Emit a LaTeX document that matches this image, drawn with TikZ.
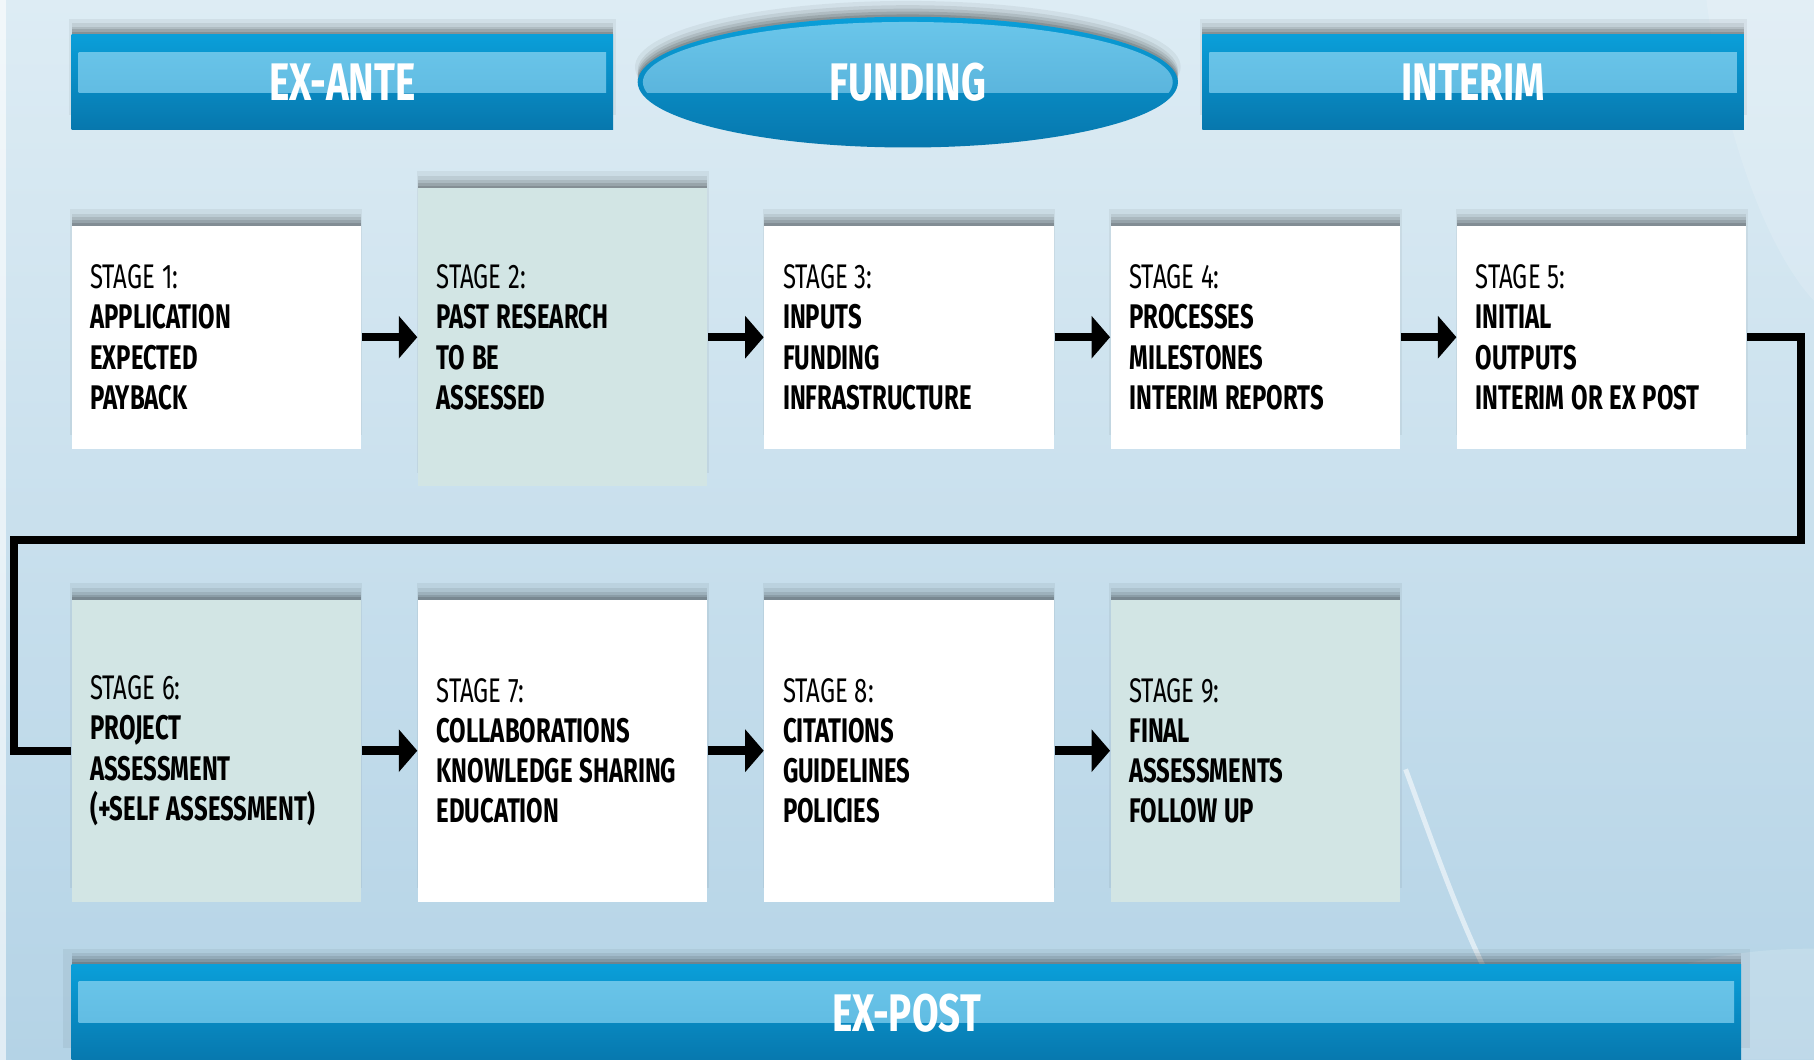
\documentclass[tikz,border=0pt]{standalone}
\usepackage{fontspec}
\setmainfont{Fira Sans}
\newfontfamily\condfont[FakeStretch=0.7, Numbers=Proportional]{Fira Sans}
\newfontfamily\bannerfont[FakeStretch=0.73]{Fira Sans}
\usetikzlibrary{positioning,shapes.geometric,shadows,arrows.meta,calc}

\definecolor{bgtop}{HTML}{DDECF4}
\definecolor{bgbottom}{HTML}{B4D3E6}
\definecolor{bandtop}{HTML}{0A9FD9}
\definecolor{banddeep}{HTML}{0777AD}
\definecolor{bandlight}{HTML}{6BC7EB}
\definecolor{bandmid}{HTML}{5BB5DD}
\definecolor{stagegreen}{HTML}{D2E5E4}

\newcommand{\stagehead}[1]{{\mdseries STAGE #1:}}

\tikzset{
  softshadow/.style={general shadow={shadow yshift=0.13cm, shadow scale=1.01, fill=black, opacity=.05},
                     general shadow={shadow yshift=0.10cm, fill=black, opacity=.07},
                     general shadow={shadow yshift=0.07cm, fill=black, opacity=.09},
                     general shadow={shadow yshift=0.045cm, fill=black, opacity=.11},
                     general shadow={shadow yshift=0.02cm, fill=black, opacity=.13}},
  stagebox/.style={rectangle, fill=white, softshadow, minimum width=2.5cm, minimum height=1.93cm,
                   text width=2.18cm, inner xsep=0.16cm, inner ysep=0pt, align=left, text=black,
                   font=\condfont\bfseries\fontsize{8.4}{9.9}\selectfont,
                   execute at begin node={\spaceskip=0.2em plus 0.05em\relax}},
  shadedbox/.style={stagebox, fill=stagegreen},
  bandfill/.style={path picture={\shade[top color=bandlight, bottom color=bandmid]
                   ([xshift=0.06cm,yshift=-0.15cm]path picture bounding box.north west) rectangle
                   ([xshift=-0.06cm,yshift=-0.50cm]path picture bounding box.north east);}},
  banner/.style={rectangle, softshadow, top color=bandtop, bottom color=banddeep, bandfill,
                 minimum width=4.68cm, minimum height=0.82cm, inner sep=0pt, text=white,
                 font=\bannerfont\bfseries\fontsize{13}{13}\selectfont},
  fundshape/.style={ellipse, softshadow, top color=bandtop, bottom color=banddeep,
                    minimum width=4.67cm, minimum height=1.13cm, inner sep=0pt, text=white,
                    font=\bannerfont\bfseries\fontsize{13}{13}\selectfont,
                    path picture={\begin{scope}
                      \clip (path picture bounding box.center) ellipse (2.29cm and 0.52cm);
                      \shade[top color=bandlight, bottom color=bandmid] (path picture bounding box.north west)
                        rectangle ([yshift=-0.09cm]path picture bounding box.east);
                    \end{scope}}},
  flow/.style={line width=2.1pt, -{Triangle[length=0.16cm,width=0.36cm]}},
  loopline/.style={line width=2pt},
}

\begin{document}
\begin{tikzpicture}
\clip (0,0) rectangle (15.68,-9.16);
\shade[top color=bgtop, bottom color=bgbottom] (0,0) rectangle (15.68,-9.16);
\fill[white, opacity=.6] (0,0) rectangle (0.05,-9.16);
\fill[white, opacity=.15] (14.75,0) .. controls (14.9,-1.2) and (15.3,-2.2) .. (15.68,-2.6) -- (15.68,0) -- cycle;
\draw[white, opacity=.55, line width=1.2pt] (12.15,-6.65) .. controls (12.5,-7.6) and (12.8,-8.5) .. (13.3,-9.16);
\fill[white, opacity=.15] (13.3,-9.16) .. controls (13.9,-8.4) and (14.8,-8.2) .. (15.68,-8.2) -- (15.68,-9.16) -- cycle;

\node[banner] (exante) at (2.96,-0.71) {EX-ANTE};
\node[banner, right=5.08cm of exante] (interim) {INTERIM};
\node[fundshape] (funding) at ($(exante)!0.5!(interim)$) {FUNDING};

\node[stagebox] (S1) at (1.87,-2.915) {\stagehead{1}\\APPLICATION\\EXPECTED\\PAYBACK};
\node[shadedbox, minimum height=2.58cm, right=0.48cm of S1] (S2) {\stagehead{2}\\PAST RESEARCH\\TO BE\\ASSESSED};
\node[stagebox, right=0.48cm of S2] (S3) {\stagehead{3}\\INPUTS\\FUNDING\\INFRASTRUCTURE};
\node[stagebox, right=0.48cm of S3] (S4) {\stagehead{4}\\PROCESSES\\MILESTONES\\INTERIM REPORTS};
\node[stagebox, right=0.48cm of S4] (S5) {\stagehead{5}\\INITIAL\\OUTPUTS\\INTERIM OR EX POST};

\node[shadedbox, minimum height=2.61cm, below=1.29cm of S1] (S6) {\stagehead{6}\\PROJECT\\ASSESSMENT\\(+SELF ASSESSMENT)};
\node[stagebox, minimum height=2.61cm, right=0.48cm of S6] (S7) {\stagehead{7}\\COLLABORATIONS\\KNOWLEDGE SHARING\\EDUCATION};
\node[stagebox, minimum height=2.61cm, right=0.48cm of S7] (S8) {\stagehead{8}\\CITATIONS\\GUIDELINES\\POLICIES};
\node[shadedbox, minimum height=2.61cm, right=0.48cm of S8] (S9) {\stagehead{9}\\FINAL\\ASSESSMENTS\\FOLLOW UP};

\node[banner, minimum width=14.43cm, minimum height=0.85cm, anchor=north] (expost) at (7.835,-8.33) {EX-POST};

\draw[flow] (S1) -- (S2);
\draw[flow] (S2) -- (S3);
\draw[flow] (S3) -- (S4);
\draw[flow] (S4) -- (S5);
\draw[flow] (S6) -- (S7);
\draw[flow] (S7) -- (S8);
\draw[flow] (S8) -- (S9);

\coordinate (bendR) at (15.57,-4.67);
\coordinate (bendL) at (0.12,-4.67);
\draw[loopline] (S5.east) -| (bendR) -- (bendL) |- (S6.west);
\end{tikzpicture}
\end{document}
